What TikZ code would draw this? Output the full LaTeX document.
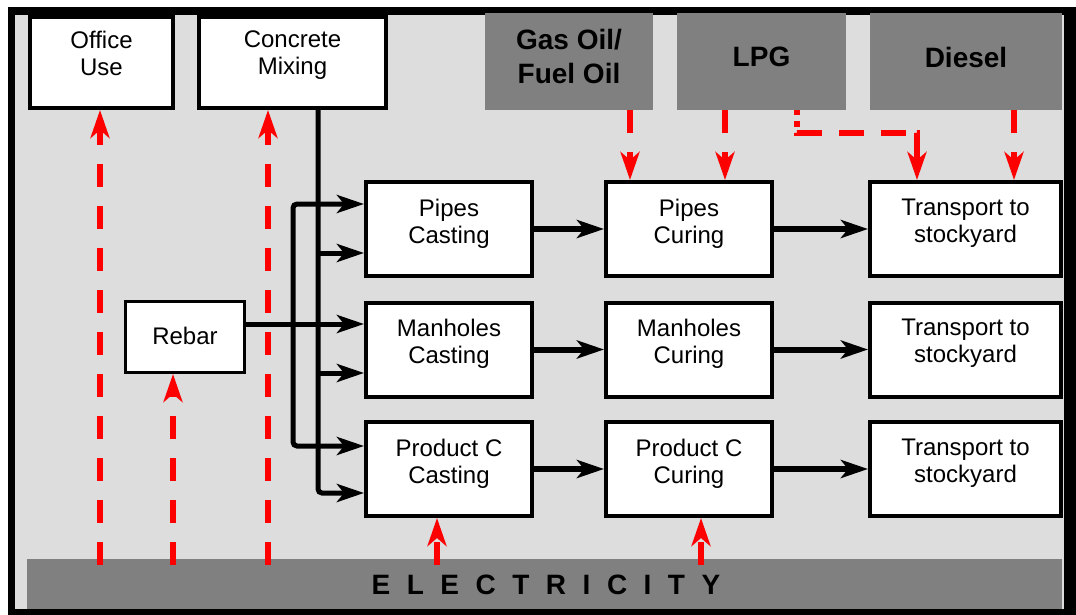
\documentclass[tikz,border=0pt]{standalone}
\usepackage{fontspec}
\setmainfont{Liberation Sans}
\usetikzlibrary{arrows.meta}
\definecolor{bgl}{HTML}{DDDDDD}
\definecolor{gbox}{HTML}{808080}
\definecolor{rd}{HTML}{FF0000}
\newcommand\lsp{\hspace{16.5pt}}
\begin{document}
\begin{tikzpicture}[x=1pt,y=-1pt,
  wbox/.style={draw=black,line width=4pt,fill=white,inner sep=0pt},
  gbx/.style={fill=gbox,draw=none,inner sep=0pt},
  txt/.style={align=center,font=\fontsize{24}{27}\selectfont,inner sep=0pt},
  btxt/.style={align=center,font=\fontsize{28}{34}\selectfont\bfseries,inner sep=0pt},
  blk/.style={line width=5pt,draw=black},
  barr/.style={-{Stealth[length=27pt,width=18pt,inset=7pt]}},
  rdash/.style={draw=rd,line width=6pt,dash pattern=on 23pt off 19pt,-{Stealth[length=28pt,width=19pt,inset=8pt]}},
]
\useasboundingbox (0,0) rectangle (1076,615);
% frame
\fill[black] (8,7) rectangle (1076,615);
\fill[bgl] (15,15) rectangle (1064,609);
% top boxes
\node[wbox,minimum width=143pt,minimum height=91pt] (office) at (101.5,62.5) {};
\node[txt] (t-office) at (101.5,53) {Office\\Use};
\node[wbox,minimum width=187pt,minimum height=91pt] (mix) at (292.5,62.5) {};
\node[txt] (t-mix) at (292.5,55.4) {Concrete\\Mixing};
\node[gbx,minimum width=168pt,minimum height=97pt] (gas) at (569,61.5) {};
\node[btxt] (t-gas) at (569,56) {Gas Oil/\\Fuel Oil};
\node[gbx,minimum width=169pt,minimum height=97pt] (lpg) at (761.5,61.5) {};
\node[btxt] (t-lpg) at (761.5,57) {LPG};
\node[gbx,minimum width=192pt,minimum height=97pt] (dsl) at (966,61.5) {};
\node[btxt] (t-dsl) at (966,57) {Diesel};
% rebar
\node[wbox,line width=3pt,minimum width=119pt,minimum height=71pt] (rebar) at (185,337) {};
\node[txt] (t-rebar) at (185,336) {Rebar};
% grid
\node[wbox,minimum width=166pt,minimum height=94pt] (pc) at (449,229) {};
\node[txt] (t-pc) at (449,223.4) {Pipes\\Casting};
\node[wbox,minimum width=166pt,minimum height=94pt] (mc) at (449,349.5) {};
\node[txt] (t-mc) at (449,343.5) {Manholes\\Casting};
\node[wbox,minimum width=166pt,minimum height=94pt] (prc) at (449,469) {};
\node[txt] (t-prc) at (449,463.4) {Product C\\Casting};
\node[wbox,minimum width=166pt,minimum height=94pt] (pcu) at (689,229) {};
\node[txt] (t-pcu) at (689,223.4) {Pipes\\Curing};
\node[wbox,minimum width=166pt,minimum height=94pt] (mcu) at (689,349.5) {};
\node[txt] (t-mcu) at (689,343.5) {Manholes\\Curing};
\node[wbox,minimum width=166pt,minimum height=94pt] (prcu) at (689,469) {};
\node[txt] (t-prcu) at (689,463.4) {Product C\\Curing};
\node[wbox,minimum width=191pt,minimum height=94pt] (pt) at (965.5,229) {};
\node[txt] (t-pt) at (965.5,223.4) {Transport to\\stockyard};
\node[wbox,minimum width=191pt,minimum height=94pt] (mt) at (965.5,349.5) {};
\node[txt] (t-mt) at (965.5,343.5) {Transport to\\stockyard};
\node[wbox,minimum width=191pt,minimum height=94pt] (prt) at (965.5,469) {};
\node[txt] (t-prt) at (965.5,463.4) {Transport to\\stockyard};
% electricity
\node[gbx,minimum width=1035pt,minimum height=50pt] (elec) at (544.5,584) {};
\node[font=\fontsize{28}{30}\selectfont\bfseries,inner sep=0pt] (t-elec) at (546,585) {E\lsp L\lsp E\lsp C\lsp T\lsp R\lsp I\lsp C\lsp I\lsp T\lsp Y};
% black connectors
\coordinate (j1) at (318,253);
\coordinate (j2) at (318,373);
\coordinate (rj) at (293,324);
\draw[blk,barr,rounded corners=4pt] (mix.south -| 318,0) |- (prc.west |- 0,493);
\draw[blk,barr] (j1) -- (pc.west |- j1);
\draw[blk,barr] (j2) -- (mc.west |- j2);
\draw[blk,barr] (rebar.east |- rj) -- (mc.west |- rj);
\draw[blk,barr,rounded corners=4pt] (rj) |- (pc.west |- 0,204);
\draw[blk,barr,rounded corners=4pt] (rj) |- (prc.west |- 0,446);
\draw[blk,line width=6pt,barr] (pc) -- (pcu);
\draw[blk,line width=6pt,barr] (mc) -- (mcu);
\draw[blk,line width=6pt,barr] (prc) -- (prcu);
\draw[blk,line width=6pt,barr] (pcu) -- (pt);
\draw[blk,line width=6pt,barr] (mcu) -- (mt);
\draw[blk,line width=6pt,barr] (prcu) -- (prt);
% red connectors from electricity
\draw[rdash,shorten <=-6pt] (elec.north -| 100,0) -- (office.south -| 100,0);
\draw[rdash,shorten <=-6pt] (elec.north -| 268,0) -- (mix.south -| 268,0);
\draw[rdash,shorten <=-6pt] (elec.north -| 173,0) -- (rebar.south -| 173,0);
\draw[rdash,shorten <=-6pt] (elec.north -| 437,0) -- (prc.south -| 437,0);
\draw[rdash,shorten <=-6pt] (elec.north -| 701,0) -- (prcu.south -| 701,0);
% red connectors from fuels
\draw[rdash] (gas.south -| 630,0) -- (pcu.north -| 630,0);
\draw[rdash] (lpg.south -| 725,0) -- (pcu.north -| 725,0);
\draw[rdash,dash pattern=on 5pt off 6pt on 6pt off 6pt on 25pt off 17pt on 25pt off 17pt on 25pt off 11pt on 40pt off 0pt] (lpg.south -| 797,0) -- ++(0,23) -| (pt.north -| 917,0);
\draw[rdash] (dsl.south -| 1014,0) -- (pt.north -| 1014,0);
\end{tikzpicture}
\end{document}
